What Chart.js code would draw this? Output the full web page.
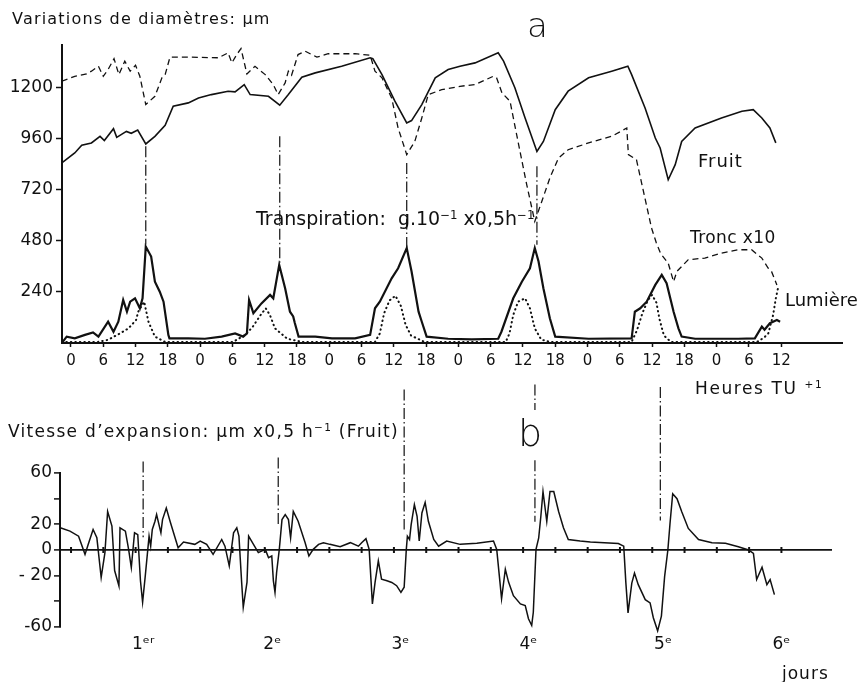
<!DOCTYPE html>
<html lang="fr">
<head>
<meta charset="UTF-8">
<title>Variations de diamètres et vitesse d'expansion</title>
<script src="https://cdn.jsdelivr.net/npm/chart.js"></script>
<style>
  body { margin: 0; background: #fff; font-family: "DejaVu Sans", sans-serif; color: #111; }
  #page { position: relative; width: 861px; height: 682px; overflow: hidden; }
  canvas { position: absolute; left: 0; }
  #topChart { top: 0; }
  #botChart { top: 372px; }
  .lbl { position: absolute; white-space: nowrap; line-height: 1; }
  .lbl sup { font-size: 0.62em; vertical-align: 0.55em; line-height: 0; }
  .big { font-weight: 200; }
</style>
</head>
<body>
<div id="page">
  <canvas id="topChart" width="861" height="372"></canvas>
  <canvas id="botChart" width="861" height="310"></canvas>

  <div class="lbl" style="left:12px; top:11px; font-size:16px; letter-spacing:1.2px;">Variations de diamètres: µm</div>
  <div class="lbl big" style="left:527px; top:8px; font-size:34px;">a</div>
  <div class="lbl" style="left:698px; top:152px; font-size:18px; letter-spacing:1px;">Fruit</div>
  <div class="lbl" style="left:690px; top:229px; font-size:17px; letter-spacing:0.4px;">Tronc x10</div>
  <div class="lbl" style="left:785px; top:291px; font-size:18px;">Lumière</div>
  <div class="lbl" style="left:256px; top:209px; font-size:19px;">Transpiration: &nbsp;g.10<sup>−1</sup> x0,5h<sup>−1</sup></div>
  <div class="lbl" style="left:695px; top:380px; font-size:17px; letter-spacing:1.6px;">Heures TU <sup>+1</sup></div>
  <div class="lbl big" style="left:518px; top:414px; font-size:38px;">b</div>
  <div class="lbl" style="left:8px; top:423px; font-size:17px; letter-spacing:1.3px;">Vitesse d’expansion: µm x0,5 h<sup>−1</sup> (Fruit)</div>
  <div class="lbl" style="left:782px; top:665px; font-size:17px; letter-spacing:1px;">jours</div>
</div>

<script>
// heures depuis le premier minuit (TU+1)
const fruitH = [-1.7, 0.7, 2.0, 3.8, 5.4, 6.2, 7.9, 8.5, 10.3, 11.2, 12.4, 13.9, 15.6, 17.5, 19.0, 21.8, 23.7, 26.1, 29.2, 30.5, 32.2, 33.3, 36.7, 38.8, 40.4, 42.9, 45.4, 50.3, 55.6, 56.1, 57.8, 60.2, 62.4, 63.3, 65.2, 67.7, 70.1, 72.3, 75.1, 79.4, 80.4, 82.5, 84.4, 86.6, 87.8, 90.0, 92.4, 96.2, 100.5, 103.5, 104.2, 106.7, 108.6, 109.5, 111.0, 112.3, 113.5, 116.0, 120.9, 124.7, 126.8, 128.4, 129.9, 131.0];
const fruitV = [846, 893, 929, 940, 971, 951, 1007, 966, 994, 985, 1000, 935, 971, 1023, 1112, 1128, 1151, 1167, 1183, 1180, 1214, 1167, 1159, 1117, 1167, 1249, 1269, 1300, 1340, 1336, 1261, 1136, 1034, 1045, 1120, 1246, 1285, 1300, 1316, 1363, 1324, 1199, 1057, 900, 947, 1096, 1183, 1246, 1277, 1300, 1261, 1104, 963, 916, 767, 838, 947, 1010, 1057, 1089, 1096, 1057, 1010, 940];

const troncH = [-1.7, 0.7, 2.9, 3.8, 5.1, 6.0, 6.9, 8.0, 8.9, 10.0, 11.0, 12.0, 12.8, 13.9, 15.6, 16.9, 17.5, 18.4, 21.8, 27.4, 29.2, 29.9, 30.8, 31.6, 32.7, 34.2, 36.1, 37.6, 38.5, 39.8, 40.4, 41.0, 42.2, 43.5, 45.7, 47.8, 52.8, 55.6, 56.5, 57.8, 59.6, 60.8, 62.4, 63.9, 65.2, 66.4, 68.9, 72.3, 75.1, 78.5, 79.1, 80.1, 81.6, 83.2, 84.7, 86.2, 87.5, 89.0, 90.6, 92.4, 96.2, 100.5, 103.3, 103.6, 105.1, 106.4, 107.9, 108.8, 109.6, 111.0, 112.0, 112.6, 114.7, 117.8, 120.9, 124.0, 126.5, 128.4, 129.6, 130.2, 131.2];
const troncV = [1230, 1253, 1264, 1277, 1300, 1253, 1285, 1336, 1261, 1324, 1277, 1305, 1253, 1120, 1159, 1246, 1261, 1343, 1343, 1340, 1363, 1316, 1355, 1383, 1264, 1300, 1261, 1214, 1167, 1222, 1277, 1258, 1355, 1371, 1343, 1359, 1359, 1352, 1277, 1246, 1151, 1010, 885, 947, 1057, 1167, 1190, 1206, 1214, 1253, 1246, 1175, 1136, 932, 744, 571, 665, 775, 869, 908, 940, 971, 1010, 885, 861, 712, 540, 470, 420, 375, 288, 336, 391, 399, 422, 438, 438, 399, 351, 336, 273];

const transpH = [-1.7, -0.8, 0.7, 2.6, 4.1, 5.1, 6.9, 7.9, 8.8, 9.7, 10.4, 11.0, 11.9, 12.8, 13.3, 13.9, 14.9, 15.6, 16.5, 17.2, 18.1, 18.3, 21.8, 24.9, 28.0, 30.5, 32.0, 32.7, 33.1, 33.9, 35.4, 37.0, 37.6, 38.7, 39.8, 40.7, 41.3, 41.6, 42.3, 45.4, 48.5, 52.8, 55.6, 56.5, 57.4, 59.6, 60.8, 62.4, 63.3, 64.6, 65.2, 66.1, 70.1, 74.5, 79.4, 80.0, 82.2, 83.8, 85.3, 86.2, 86.9, 87.8, 89.0, 90.0, 96.2, 104.2, 104.8, 105.8, 107.0, 108.6, 109.8, 110.7, 112.0, 112.9, 113.5, 116.0, 124.0, 127.1, 128.4, 128.9, 129.9, 131.2, 131.8];
const transpV = [0, 30, 22, 38, 50, 30, 100, 53, 100, 202, 147, 194, 210, 163, 210, 453, 406, 288, 241, 194, 38, 22, 22, 20, 30, 45, 30, 45, 202, 140, 186, 226, 210, 367, 257, 147, 125, 94, 30, 30, 22, 22, 38, 163, 194, 304, 351, 446, 336, 147, 100, 30, 20, 17, 20, 53, 210, 288, 351, 446, 383, 257, 116, 30, 20, 22, 147, 163, 194, 273, 320, 281, 147, 69, 30, 20, 20, 22, 77, 62, 93, 108, 100];

const lumH = [-1.7, 5.0, 6.9, 9.1, 10.7, 12.1, 12.5, 13.6, 14.4, 15.6, 17.5, 30.1, 32.5, 33.8, 35.2, 36.2, 37.0, 37.9, 40.2, 43.0, 56.5, 57.4, 58.2, 59.2, 60.3, 61.3, 62.2, 63.2, 65.7, 80.8, 81.5, 82.2, 83.1, 84.4, 85.3, 86.2, 87.4, 89.0, 104.2, 105.2, 106.2, 107.2, 108.0, 108.8, 109.4, 110.2, 111.5, 127.5, 128.8, 129.6, 130.5, 131.0, 131.4];
const lumV = [5, 5, 15, 45, 69, 108, 147, 194, 100, 30, 5, 5, 40, 77, 130, 163, 130, 69, 20, 5, 5, 45, 140, 200, 222, 175, 85, 35, 5, 5, 45, 132, 194, 210, 163, 69, 16, 5, 5, 60, 140, 200, 226, 190, 110, 35, 5, 5, 25, 45, 132, 210, 257];

const vitH = [-2.0, -0.2, 1.4, 2.6, 3.2, 4.1, 4.8, 5.6, 6.3, 6.8, 7.6, 8.1, 8.9, 9.1, 10.1, 10.7, 11.2, 11.8, 12.4, 12.9, 13.3, 13.8, 14.5, 14.8, 15.1, 15.6, 15.9, 16.7, 17.0, 17.7, 18.4, 19.9, 20.9, 23.0, 24.0, 25.2, 26.4, 28.0, 28.6, 29.4, 30.2, 30.8, 31.2, 31.7, 32.0, 32.7, 33.0, 33.9, 34.8, 36.1, 36.7, 37.3, 37.6, 37.9, 38.2, 38.7, 39.2, 39.8, 40.4, 40.8, 41.3, 42.2, 43.5, 44.2, 45.0, 46.0, 46.9, 48.1, 50.0, 51.9, 53.4, 54.0, 54.8, 55.4, 56.0, 56.5, 57.1, 57.7, 58.7, 59.6, 60.5, 61.3, 61.9, 62.3, 62.5, 62.9, 63.2, 63.8, 64.3, 64.7, 65.2, 65.8, 66.4, 67.4, 68.3, 69.8, 72.3, 75.4, 78.5, 79.1, 79.7, 80.0, 80.7, 81.3, 82.2, 83.5, 84.4, 85.0, 85.6, 85.9, 86.4, 86.9, 87.3, 87.7, 88.4, 89.0, 89.7, 90.6, 91.5, 92.4, 94.6, 96.5, 101.7, 102.7, 103.1, 103.5, 104.2, 104.7, 105.4, 106.7, 107.6, 108.2, 109.0, 109.7, 110.3, 110.9, 111.3, 111.8, 112.6, 113.5, 114.7, 116.6, 119.1, 121.6, 124.0, 125.9, 126.8, 127.4, 128.4, 129.3, 129.9, 130.7];
const vitV = [17.3, 14.7, 10.8, -3.4, 4.4, 16, 9.5, -21.4, -2, 30, 18.6, -16, -28, 17.3, 14.7, 0.5, -13.7, 13.4, 12, -24, -40.7, -20, 10.8, 3, 16, 22.4, 27.6, 13.4, 23.7, 32.7, 22.4, 1.8, 6.2, 4.4, 7, 4.4, -3.4, 8.2, 3, -12.4, 13.4, 17.3, 10.8, -25, -44.6, -25, 10.8, 4.4, -2, 0.5, -6, -4.6, -24, -33, -17.5, 0.5, 23.7, 27.6, 23.7, 9.5, 30, 22.4, 5.7, -4.6, 0.5, 4.4, 5.7, 4.4, 2.6, 5.7, 3, 5.7, 8.8, 0.5, -42, -25, -8.5, -22.7, -24, -25.3, -27.8, -33, -29, 0.5, 10.8, 8.2, 19.8, 35.3, 26.3, 7, 28.9, 37.1, 22.4, 8.2, 3, 7, 4.4, 5.2, 7, 0.5, -25, -38, -15, -25, -35.6, -42, -43.3, -53.6, -58.8, -48.5, 0.5, 9.5, 26.3, 45.6, 22.4, 45.6, 45.6, 30, 17.3, 8.2, 7, 6.2, 5, 3, -25.8, -49, -25.8, -18, -27, -38.7, -41.2, -52.8, -63, -51.5, -20.6, 0, 20.6, 43.8, 40, 29.6, 16.8, 8.2, 5.7, 5.2, 2.6, 0, -2.6, -23, -13.4, -27, -23, -34.8];

// graduations
const hourTicks = [0, 6, 12, 18, 24, 30, 36, 42, 48, 54, 60, 66, 72, 78, 84, 90, 96, 102, 108, 114, 120, 126, 132];
const diamTicks = [240, 480, 720, 960, 1200];
const vitTicks = [-60, -40, -20, 0, 20, 40, 60];
const vitTickLabels = ['-60', '', '- 20', '0', '20', '', '60'];
const dayTickH = [13.4, 37.4, 61.2, 85, 110, 132];
const dayLabels = ['1ᵉʳ', '2ᵉ', '3ᵉ', '4ᵉ', '5ᵉ', '6ᵉ'];

// traits mixtes verticaux : [heure, de, à]
const dropTop = [[13.9, 924, 461], [38.8, 971, 367], [62.4, 846, 447], [86.6, 830, 461]];
const dropBot = [[13.4, 69, 10], [38.5, 72, 18], [61.9, 125, 16], [86.2, 129, 109], [86.2, 70, 22], [109.5, 127, 23]];

const pts = (hs, vs) => hs.map((h, i) => ({ x: h, y: vs[i] }));
const INK = '#111';

const dropLines = {
  id: 'dropLines',
  afterDatasetsDraw(chart, args, opts) {
    const { ctx, scales: { x, y } } = chart;
    ctx.save();
    ctx.strokeStyle = INK;
    ctx.lineWidth = 1.2;
    ctx.setLineDash([11, 3, 1.5, 3]);
    opts.segments.forEach(s => {
      const px = x.getPixelForValue(s[0]);
      ctx.beginPath();
      ctx.moveTo(px, y.getPixelForValue(s[1]));
      ctx.lineTo(px, y.getPixelForValue(s[2]));
      ctx.stroke();
    });
    ctx.restore();
  }
};

const zeroTicks = {
  id: 'zeroTicks',
  afterDraw(chart, args, opts) {
    if (!opts.hours) return;
    const { ctx, scales: { x, y } } = chart;
    const y0 = y.getPixelForValue(0);
    ctx.save();
    ctx.strokeStyle = INK;
    ctx.lineWidth = 2;
    opts.hours.forEach(h => {
      const px = x.getPixelForValue(h);
      ctx.beginPath();
      ctx.moveTo(px, y0 - 3);
      ctx.lineTo(px, y0 + 3);
      ctx.stroke();
    });
    ctx.restore();
  }
};

const lineStyle = { pointRadius: 0, tension: 0, fill: false, borderColor: INK };

new Chart(document.getElementById('topChart'), {
  type: 'line',
  data: {
    datasets: [
      { ...lineStyle, label: 'Fruit', data: pts(fruitH, fruitV), borderWidth: 1.6 },
      { ...lineStyle, label: 'Tronc x10', data: pts(troncH, troncV), borderWidth: 1.3, borderDash: [6, 4] },
      { ...lineStyle, label: 'Transpiration', data: pts(transpH, transpV), borderWidth: 2.2 },
      { ...lineStyle, label: 'Lumière', data: pts(lumH, lumV), borderWidth: 2, borderDash: [0.5, 4], borderCapStyle: 'round' }
    ]
  },
  options: {
    responsive: false,
    animation: false,
    layout: { padding: { left: 0, right: 19, top: 45, bottom: 0 } },
    plugins: {
      legend: { display: false },
      tooltip: { enabled: false },
      dropLines: { segments: dropTop }
    },
    scales: {
      x: {
        type: 'linear', min: -1.67, max: 143.3,
        afterBuildTicks: s => { s.ticks = hourTicks.map(v => ({ value: v })); },
        afterFit: s => { s.height = 29; },
        border: { color: INK, width: 2 },
        grid: { drawOnChartArea: false, tickLength: 4, tickColor: INK, tickWidth: 1.5 },
        ticks: { color: INK, padding: 5, maxRotation: 0, autoSkip: false, font: { family: 'DejaVu Sans', size: 15 },
                 callback: v => String(v % 24) }
      },
      y: {
        min: 0, max: 1400,
        afterBuildTicks: s => { s.ticks = diamTicks.map(v => ({ value: v })); },
        afterFit: s => { s.width = 62; },
        border: { color: INK, width: 2 },
        grid: { drawOnChartArea: false, tickLength: 6, tickColor: INK, tickWidth: 1.5 },
        ticks: { color: INK, padding: 3, font: { family: 'DejaVu Sans', size: 17 },
                 callback: v => String(v) }
      }
    }
  },
  plugins: [dropLines]
});

new Chart(document.getElementById('botChart'), {
  type: 'line',
  data: {
    datasets: [
      { ...lineStyle, label: 'Vitesse', data: pts(vitH, vitV), borderWidth: 1.5, clip: false }
    ]
  },
  options: {
    responsive: false,
    animation: false,
    layout: { padding: { left: 0, right: 29, top: 101, bottom: 0 } },
    plugins: {
      legend: { display: false },
      tooltip: { enabled: false },
      dropLines: { segments: dropBot },
      zeroTicks: { hours: hourTicks }
    },
    scales: {
      x: {
        type: 'linear', min: -2.05, max: 141.4,
        afterBuildTicks: s => { s.ticks = dayTickH.map(v => ({ value: v })); },
        afterFit: s => { s.height = 55; },
        border: { display: false },
        grid: { display: false, drawTicks: false },
        ticks: { color: INK, padding: 7, maxRotation: 0, autoSkip: false, font: { family: 'DejaVu Sans', size: 17 },
                 callback: (v, i) => dayLabels[i] }
      },
      y: {
        min: -60, max: 60,
        afterBuildTicks: s => { s.ticks = vitTicks.map(v => ({ value: v })); },
        afterFit: s => { s.width = 60; },
        border: { color: INK, width: 2 },
        grid: {
          color: c => (c.tick && c.tick.value === 0 ? INK : 'rgba(0,0,0,0)'),
          lineWidth: 1.8, tickLength: 6, tickColor: INK, tickWidth: 1.5
        },
        ticks: { color: INK, padding: 2, font: { family: 'DejaVu Sans', size: 17 },
                 callback: (v, i) => vitTickLabels[i] }
      }
    }
  },
  plugins: [dropLines, zeroTicks]
});
</script>
</body>
</html>
